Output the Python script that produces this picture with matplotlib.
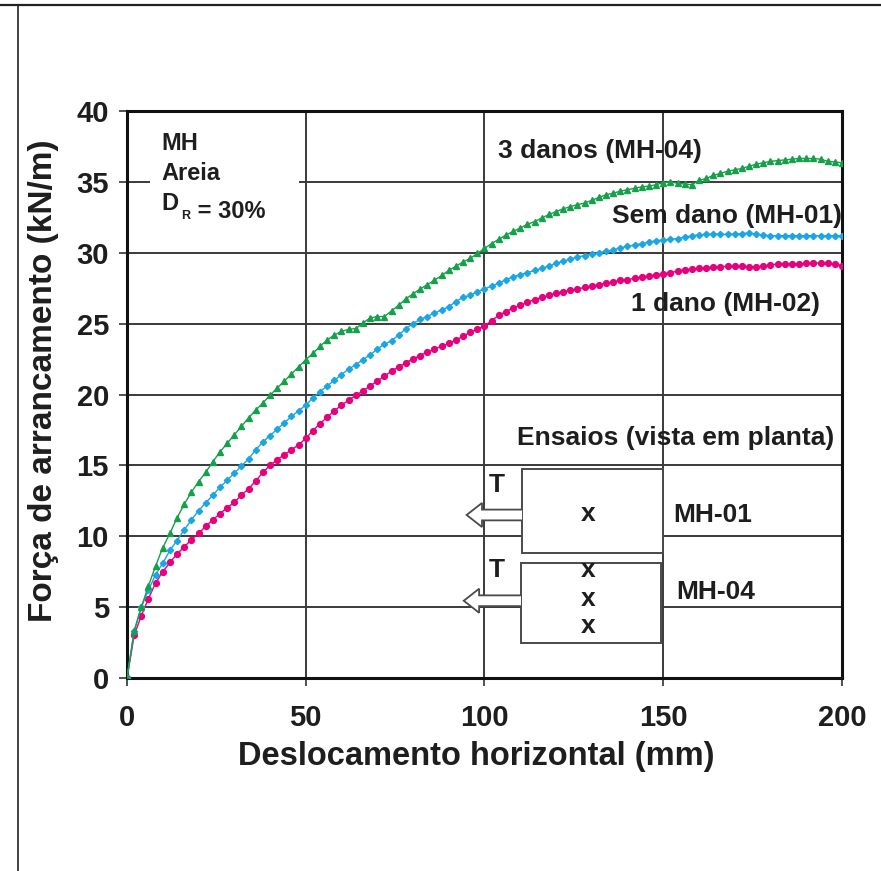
import numpy as np
import matplotlib
matplotlib.use("Agg")
import matplotlib.pyplot as plt
from matplotlib.patches import Rectangle, Polygon
from matplotlib.lines import Line2D

plt.rcParams['font.family'] = ['Liberation Sans', 'DejaVu Sans']
plt.rcParams['font.weight'] = 'bold'

# Horizontal displacement (mm), one reading every 2 mm
desloc = np.arange(0, 201, 2)

# Pull-out force (kN/m) - 1 dano (MH-02)
forca_mh02 = [
    0.0, 3.0, 4.4, 5.6, 6.7, 7.5, 8.15, 8.75, 9.25, 9.75,
    10.2, 10.7, 11.15, 11.6, 12.0, 12.4, 12.9, 13.35, 13.9, 14.5,
    15.0, 15.4, 15.75, 16.1, 16.45, 16.9, 17.45, 17.95, 18.4, 18.85,
    19.25, 19.6, 19.95, 20.25, 20.6, 20.95, 21.3, 21.65, 21.95, 22.25,
    22.5, 22.75, 23.0, 23.2, 23.4, 23.6, 23.85, 24.1, 24.4, 24.6,
    24.85, 25.2, 25.6, 25.85, 26.1, 26.3, 26.5, 26.7, 26.85, 27.0,
    27.15, 27.25, 27.35, 27.45, 27.55, 27.65, 27.75, 27.85, 27.95, 28.05,
    28.1, 28.2, 28.3, 28.35, 28.45, 28.5, 28.6, 28.7, 28.8, 28.85,
    28.9, 28.95, 29.0, 29.0, 29.05, 29.05, 29.05, 29.0, 29.0, 29.05,
    29.15, 29.2, 29.2, 29.2, 29.2, 29.25, 29.25, 29.3, 29.25, 29.2,
    29.1,
]

# Pull-out force (kN/m) - Sem dano (MH-01)
forca_mh01 = [
    0.0, 3.3, 5.0, 6.2, 7.3, 8.1, 9.0, 9.7, 10.45, 11.15,
    11.8, 12.35, 12.9, 13.45, 13.95, 14.45, 14.95, 15.45, 16.1, 16.65,
    17.1, 17.55, 18.0, 18.45, 18.85, 19.25, 19.75, 20.2, 20.6, 21.0,
    21.4, 21.8, 22.1, 22.45, 22.8, 23.2, 23.55, 23.8, 24.2, 24.65,
    25.0, 25.3, 25.5, 25.75, 25.95, 26.2, 26.55, 26.85, 27.0, 27.25,
    27.45, 27.65, 27.85, 28.1, 28.3, 28.45, 28.6, 28.75, 28.9, 29.05,
    29.25, 29.4, 29.55, 29.7, 29.8, 29.9, 30.0, 30.1, 30.2, 30.35,
    30.45, 30.55, 30.65, 30.75, 30.85, 30.9, 30.95, 31.0, 31.1, 31.2,
    31.25, 31.3, 31.3, 31.3, 31.3, 31.3, 31.35, 31.4, 31.3, 31.25,
    31.2, 31.2, 31.2, 31.2, 31.2, 31.2, 31.2, 31.2, 31.2, 31.2,
    31.2,
]

# Pull-out force (kN/m) - 3 danos (MH-04)
forca_mh04 = [
    0.0, 3.3, 5.0, 6.5, 7.9, 9.2, 10.2, 11.3, 12.25, 13.1,
    13.85, 14.5, 15.25, 15.95, 16.55, 17.15, 17.75, 18.35, 18.9, 19.4,
    19.95, 20.45, 20.95, 21.45, 21.95, 22.45, 22.9, 23.4, 23.85, 24.2,
    24.45, 24.6, 24.65, 25.05, 25.4, 25.5, 25.5, 25.9, 26.3, 26.75,
    27.1, 27.45, 27.75, 28.05, 28.4, 28.75, 29.05, 29.35, 29.6, 29.95,
    30.3, 30.65, 30.95, 31.25, 31.5, 31.75, 32.0, 32.2, 32.45, 32.7,
    32.9, 33.1, 33.25, 33.4, 33.5, 33.7, 33.9, 34.1, 34.2, 34.35,
    34.45, 34.55, 34.65, 34.7, 34.8, 34.95, 35.0, 34.9, 34.85, 34.8,
    35.1, 35.25, 35.45, 35.6, 35.75, 35.85, 35.95, 36.1, 36.25, 36.35,
    36.45, 36.5, 36.55, 36.6, 36.65, 36.65, 36.65, 36.6, 36.45, 36.4,
    36.35,
]

x_ticks = [0, 50, 100, 150, 200]
y_ticks = [0, 5, 10, 15, 20, 25, 30, 35, 40]

c_mh02 = '#E5007D'
c_mh01 = '#1AA5E3'
c_mh04 = '#15A04A'
txt = '#1e1e1e'
grid_c = '#3a3a3a'

fig = plt.figure(figsize=(8.81, 8.71), dpi=100)
ax = fig.add_axes([127 / 881, 1 - 678 / 871, (842 - 127) / 881, (678 - 111) / 871])

ax.plot(desloc, forca_mh02, '-', color=c_mh02, lw=1.0, marker='o', ms=4.2,
        mec=c_mh02, mfc=c_mh02, zorder=5)
ax.plot(desloc, forca_mh01, '-', color=c_mh01, lw=1.0, marker='D', ms=3.2,
        mec=c_mh01, mfc=c_mh01, zorder=6)
ax.plot(desloc, forca_mh04, '-', color=c_mh04, lw=1.0, marker='^', ms=4.2,
        mec=c_mh04, mfc=c_mh04, zorder=7)

ax.set_xlim(0, 200)
ax.set_ylim(0, 40)
ax.set_xticks(x_ticks)
ax.set_yticks(y_ticks)
ax.grid(True, color=grid_c, lw=1.4, zorder=0)
ax.set_axisbelow(True)
for s in ax.spines.values():
    s.set_linewidth(2.2)
    s.set_color('#111111')
ax.tick_params(axis='both', direction='out', length=6, width=1.2, colors='#333333',
               labelcolor=txt, labelsize=21)
ax.tick_params(axis='x', pad=13)
ax.tick_params(axis='y', pad=7)
for lab in ax.get_xticklabels() + ax.get_yticklabels():
    lab.set_fontweight('bold')

ax.set_xlabel('Deslocamento horizontal (mm)', fontsize=23.5, fontweight='bold',
              color=txt)
ax.set_ylabel('Força de arrancamento (kN/m)', fontsize=24, fontweight='bold',
              color=txt)
ax.xaxis.set_label_coords(0.488, -0.111)
ax.yaxis.set_label_coords(-0.095, 0.525)

# Info box in the upper-left corner
ax.add_patch(Rectangle((6.5, 32.6), 41.5, 7.0, facecolor='white', edgecolor='none', zorder=1))
info_kw = dict(fontsize=17, fontweight='bold', color=txt, va='baseline', zorder=2)
ax.text(9.7, 37.25, 'MH', **info_kw)
ax.text(9.7, 35.13, 'Areia', **info_kw)
d_txt = ax.text(9.7, 33.0, 'D', **info_kw)
r_txt = ax.annotate('R', xy=(1.0, 0.0), xycoords=d_txt, xytext=(1.5, -3),
                    textcoords='offset points', fontsize=9, fontweight='bold',
                    color=txt, va='baseline', ha='left', zorder=2)
ax.annotate(' = 30%', xy=(1.0, 0.0), xycoords=r_txt, xytext=(0.5, 3),
            textcoords='offset points', fontsize=17, fontweight='bold',
            color=txt, va='baseline', ha='left', zorder=2)

# Curve labels
kw = dict(fontsize=19, fontweight='bold', color=txt, zorder=8)
ax.text(103.8, 37.2, '3 danos (MH-04)', ha='left', va='center', **kw)
ax.text(200.0, 32.6, 'Sem dano (MH-01)', ha='right', va='center', **kw)
ax.text(193.8, 26.4, '1 dano (MH-02)', ha='right', va='center', **kw)

# Test layout sketch (plan view)
ax.text(197.8, 16.9, 'Ensaios (vista em planta)', ha='right', va='center', **kw)

box_kw = dict(facecolor='white', edgecolor='#4a4a4a', lw=1.4, zorder=3)
ax.add_patch(Rectangle((110.5, 8.8), 39.4, 5.95, **box_kw))
ax.add_patch(Rectangle((110.2, 2.45), 39.2, 5.65, **box_kw))

def pull_arrow(yc, x_rect, x_tip):
    hw_shaft = 0.38
    hw_head = 0.85
    x_base = x_tip + 4.3
    pts = [(x_rect, yc + hw_shaft), (x_base, yc + hw_shaft), (x_base, yc + hw_head),
           (x_tip, yc), (x_base, yc - hw_head), (x_base, yc - hw_shaft),
           (x_rect, yc - hw_shaft)]
    ax.add_patch(Polygon(pts, closed=False, facecolor='white', edgecolor='#4a4a4a',
                         lw=1.3, zorder=4, joinstyle='miter'))

pull_arrow(11.5, 110.5, 95.0)
pull_arrow(5.45, 110.2, 94.2)

ax.text(103.4, 13.6, 'T', ha='center', va='center', **kw)
ax.text(103.4, 7.6, 'T', ha='center', va='center', **kw)
ax.text(129.0, 11.6, 'x', ha='center', va='center', **kw)
ax.text(129.0, 7.6, 'x', ha='center', va='center', **kw)
ax.text(129.0, 5.6, 'x', ha='center', va='center', **kw)
ax.text(129.0, 3.7, 'x', ha='center', va='center', **kw)
ax.text(152.8, 11.5, 'MH-01', ha='left', va='center', **kw)
ax.text(153.6, 6.1, 'MH-04', ha='left', va='center', **kw)

# Page frame
fig.add_artist(Line2D([0, 1], [1 - 5 / 871, 1 - 5 / 871], transform=fig.transFigure,
                      color='#222222', lw=1.6))
fig.add_artist(Line2D([18 / 881, 18 / 881], [0, 1 - 5 / 871], transform=fig.transFigure,
                      color='#222222', lw=1.2))

fig.savefig('out.png', dpi=100, facecolor='white')
